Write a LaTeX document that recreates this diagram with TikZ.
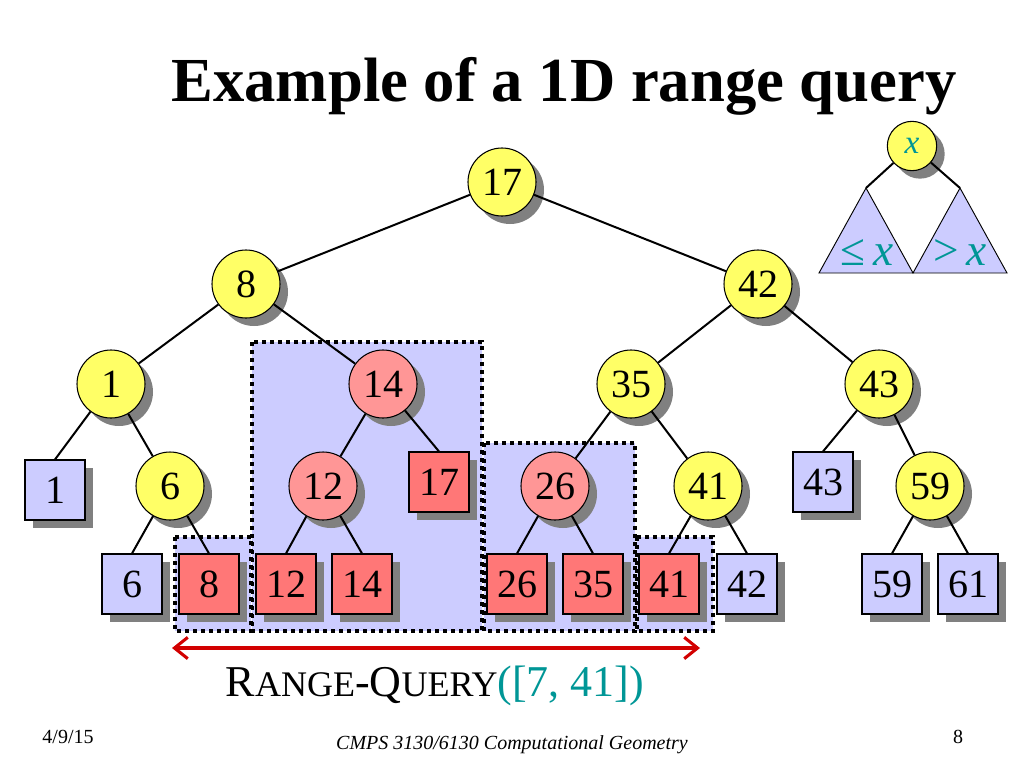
\documentclass[tikz,border=0pt]{standalone}
\usepackage{fontspec}
\setmainfont{Liberation Serif}
\usetikzlibrary{shadows,arrows.meta}
\definecolor{nodeyellow}{RGB}{255,255,102}
\definecolor{hitpink}{RGB}{255,150,150}
\definecolor{hitred}{RGB}{255,119,119}
\definecolor{leafblue}{RGB}{204,204,255}
\definecolor{darkteal}{RGB}{0,150,150}
\definecolor{arrowred}{RGB}{210,0,0}
\begin{document}
\begin{tikzpicture}[x=0.75pt,y=-0.75pt,
  inner/.style={circle,draw,line width=0.8pt,fill=nodeyellow,minimum size=51pt,inner sep=0pt,
    font=\fontsize{30}{30}\selectfont,
    general shadow={fill=gray,shadow xshift=6pt,shadow yshift=-6pt}},
  hitinner/.style={inner,fill=hitpink},
  leaf/.style={rectangle,draw,line width=0.8pt,fill=leafblue,minimum size=45pt,inner sep=0pt,
    font=\fontsize{30}{30}\selectfont,
    general shadow={fill=gray,shadow xshift=6pt,shadow yshift=-6pt}},
  hitleaf/.style={leaf,fill=hitred},
  rangebox/.style={fill=leafblue,line width=2.7pt,dash pattern=on 3pt off 3pt},
  edge/.style={line width=1.5pt}]
\useasboundingbox (0,0) rectangle (1024,768);

\node[font=\bfseries\fontsize{47}{47}\selectfont,anchor=base] (title) at (564,101) {Example of a 1D range query};

\draw[rangebox] (252,342) rectangle (482,631);
\draw[rangebox] (484,443) rectangle (635,631);
\draw[rangebox] (175,537) rectangle (251,631);
\draw[rangebox] (637,537) rectangle (713,631);

\node[inner] (c17) at (502,182) {17};
\node[inner] (c8) at (246,284) {8};
\node[inner] (c42) at (758,284) {42};
\node[inner] (c1) at (111,384) {1};
\node[hitinner] (c14) at (383,384) {14};
\node[inner] (c35) at (631,384) {35};
\node[inner] (c43) at (879,384) {43};
\node[inner] (c6) at (170,486) {6};
\node[hitinner] (c12) at (323,486) {12};
\node[hitinner] (c26) at (555,486) {26};
\node[inner] (c41) at (708,486) {41};
\node[inner] (c59) at (930,486) {59};

\node[leaf] (s1) at (55,490) {1};
\node[hitleaf] (s17) at (439,482) {17};
\node[leaf] (s43) at (823,482) {43};
\node[leaf] (s6) at (132,584) {6};
\node[hitleaf] (s8) at (209,584) {8};
\node[hitleaf] (s12) at (286,584) {12};
\node[hitleaf] (s14) at (362,584) {14};
\node[hitleaf] (s26) at (517,584) {26};
\node[hitleaf] (s35) at (593,584) {35};
\node[hitleaf] (s41) at (669,584) {41};
\node[leaf] (s42) at (747,584) {42};
\node[leaf] (s59) at (892,584) {59};
\node[leaf] (s61) at (968,584) {61};

\draw[edge] (c17) -- (c8);
\draw[edge] (c17) -- (c42);
\draw[edge] (c8) -- (c1);
\draw[edge] (c8) -- (c14);
\draw[edge] (c42) -- (c35);
\draw[edge] (c42) -- (c43);
\draw[edge] (c1) -- (s1.north);
\draw[edge] (c1) -- (c6);
\draw[edge] (c6) -- (s6.north);
\draw[edge] (c6) -- (s8.north);
\draw[edge] (c14) -- (c12);
\draw[edge] (c14) -- (s17.north);
\draw[edge] (c12) -- (s12.north);
\draw[edge] (c12) -- (s14.north);
\draw[edge] (c35) -- (c26);
\draw[edge] (c35) -- (c41);
\draw[edge] (c26) -- (s26.north);
\draw[edge] (c26) -- (s35.north);
\draw[edge] (c41) -- (s41.north);
\draw[edge] (c41) -- (s42.north);
\draw[edge] (c43) -- (s43.north);
\draw[edge] (c43) -- (c59);
\draw[edge] (c59) -- (s59.north);
\draw[edge] (c59) -- (s61.north);

\draw[line width=0.7pt,fill=leafblue] (819,273) -- (866,188) -- (913,273) -- cycle;
\draw[line width=0.7pt,fill=leafblue] (913,273) -- (960,188) -- (1007,273) -- cycle;
\coordinate (lapex) at (866,188);
\coordinate (rapex) at (960,188);
\node[inner,minimum size=37pt,font=\fontsize{25}{25}\selectfont,
  general shadow={fill=gray,shadow xshift=4pt,shadow yshift=-4pt}] (cx) at (912,146) {\textcolor{darkteal}{\textit{x}}};
\draw[edge] (cx) -- (lapex);
\draw[edge] (cx) -- (rapex);
\node[text=darkteal,font=\fontsize{34}{34}\selectfont] (le) at (867,253) {≤\,\textit{x}};
\node[text=darkteal,font=\fontsize{34}{34}\selectfont] (gt) at (960,253) {>\,\textit{x}};

\coordinate (qa) at (172,648);
\coordinate (qb) at (700,648);
\draw[arrowred,line width=2.3pt,{Straight Barb[length=10pt,width=16pt]}-{Straight Barb[length=10pt,width=16pt]}] (qa) -- (qb);
\node[font=\fontsize{33}{33}\selectfont] (query) at (435,686)
  {R{\fontsize{27}{27}\selectfont ANGE}-Q{\fontsize{27}{27}\selectfont UERY}\textcolor{darkteal}{([7, 41])}};

\node[font=\fontsize{15}{15}\selectfont] (date) at (68,737) {4/9/15};
\node[font=\fontsize{15}{15}\selectfont] (page) at (958,737) {8};
\node[font=\itshape\fontsize{15}{15}\selectfont] (course) at (512,745) {CMPS 3130/6130 Computational Geometry};
\end{tikzpicture}
\end{document}
